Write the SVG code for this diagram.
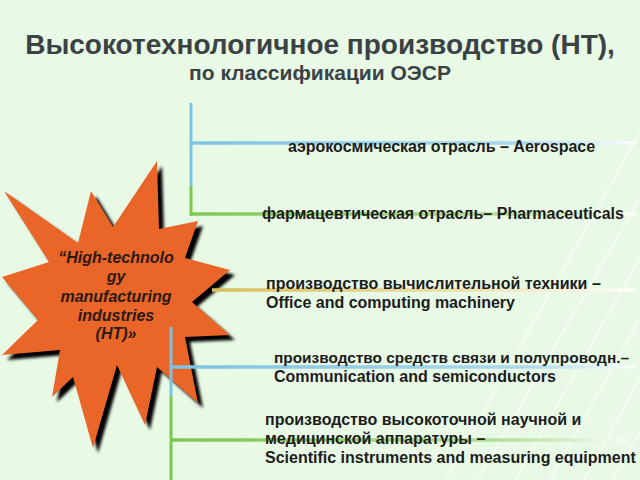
<svg xmlns="http://www.w3.org/2000/svg" xmlns:xlink="http://www.w3.org/1999/xlink" width="640" height="480" viewBox="0 0 640 480">
  <defs>
    <style>
      .title { font-family: "Liberation Sans", Arial, sans-serif; font-weight: bold; fill: #3b4246; text-anchor: middle; }
      .item { font-family: "Liberation Sans", Arial, sans-serif; font-weight: bold; font-size: 16px; fill: #1c1c1c; }
      .star-text { font-family: "Liberation Sans", Arial, sans-serif; font-weight: bold; font-style: italic; font-size: 16px; fill: #2b1a12; text-anchor: middle; }
      .conn { stroke-width: 3.5; fill: none; }
      .vert { stroke-width: 3; fill: none; }
      .deco { stroke: #ffffff; stroke-opacity: 0.75; stroke-width: 1.4; fill: none; }
    </style>
    <linearGradient id="blueFade" gradientUnits="userSpaceOnUse" x1="170" y1="0" x2="640" y2="0">
      <stop offset="0" stop-color="#7cc3e2"/>
      <stop offset="0.75" stop-color="#a9d8ec"/>
      <stop offset="1" stop-color="#ffffff"/>
    </linearGradient>
    <linearGradient id="greenFade" gradientUnits="userSpaceOnUse" x1="170" y1="0" x2="640" y2="0">
      <stop offset="0" stop-color="#7cc64f"/>
      <stop offset="0.7" stop-color="#b3dd98"/>
      <stop offset="1" stop-color="#ffffff"/>
    </linearGradient>
    <linearGradient id="yellowFade" gradientUnits="userSpaceOnUse" x1="200" y1="0" x2="640" y2="0">
      <stop offset="0" stop-color="#d8bd55"/>
      <stop offset="0.6" stop-color="#ecdfae"/>
      <stop offset="1" stop-color="#ffffff"/>
    </linearGradient>
    <filter id="blur" x="-10%" y="-10%" width="120%" height="120%">
      <feGaussianBlur stdDeviation="1.6"/>
    </filter>
    <polygon id="starShape" points="157,161 159,229 198,221 185,258 230,270 192,302 230,335 185,337 198,403 157,367 145,425 117,365 93,448 73,377 52,397 60,350 2,355 38,320 2,277 49,262 4,191 78,243 91,191 113,227"/>
  </defs>

  <rect x="0" y="0" width="640" height="480" fill="#e8f9e5"/>

  <g id="background-lines">
    <line class="deco" x1="640" y1="132" x2="445" y2="480"/>
    <line class="deco" x1="640" y1="198" x2="478" y2="480"/>
    <line class="deco" x1="640" y1="258" x2="515" y2="480"/>
    <line class="deco" x1="640" y1="318" x2="550" y2="480"/>
    <line class="deco" x1="640" y1="378" x2="584" y2="480"/>
    <line class="deco" x1="640" y1="432" x2="612" y2="480"/>
  </g>

  <g id="title">
    <text class="title" x="320" y="54" font-size="28">Высокотехнологичное производство (НТ),</text>
    <text class="title" x="320" y="80" font-size="21">по классификации ОЭСР</text>
  </g>

  <g id="node-ht">
    <use xlink:href="#starShape" fill="#000000" transform="translate(5,5)" filter="url(#blur)"/>
    <use xlink:href="#starShape" fill="#e96528"/>
    <text class="star-text" x="116" y="263">“High-technolo</text>
    <text class="star-text" x="116" y="282">gy</text>
    <text class="star-text" x="116" y="302">manufacturing</text>
    <text class="star-text" x="116" y="321">industries</text>
    <text class="star-text" x="116" y="339">(HT)»</text>
  </g>

  <g id="connectors">
    <line class="vert" x1="191" y1="103" x2="191" y2="186" stroke="#7cc3e2"/>
    <line class="vert" x1="191" y1="186" x2="191" y2="216" stroke="#7cc64f"/>
    <line class="conn" x1="190" y1="143" x2="636" y2="143" stroke="url(#blueFade)"/>
    <line class="conn" x1="190" y1="214" x2="636" y2="214" stroke="url(#greenFade)"/>
    <line class="conn" x1="212" y1="290" x2="636" y2="290" stroke="url(#yellowFade)"/>
    <line class="vert" x1="171" y1="327" x2="171" y2="396" stroke="#7cc3e2"/>
    <line class="vert" x1="171" y1="396" x2="171" y2="480" stroke="#7cc64f"/>
    <line class="conn" x1="170" y1="367" x2="636" y2="367" stroke="url(#blueFade)"/>
    <line class="conn" x1="170" y1="440" x2="628" y2="440" stroke="url(#greenFade)"/>
  </g>

  <g id="node-aerospace">
    <text class="item" x="288" y="152">аэрокосмическая отрасль – Aerospace</text>
  </g>
  <g id="node-pharma">
    <text class="item" x="262" y="219">фармацевтическая отрасль– Pharmaceuticals</text>
  </g>
  <g id="node-computing">
    <text class="item" x="266" y="289">производство вычислительной техники –</text>
    <text class="item" x="266" y="308">Office and computing machinery</text>
  </g>
  <g id="node-communication">
    <text class="item" x="274" y="363" style="font-size:15.4px">производство средств связи и полупроводн.–</text>
    <text class="item" x="274" y="382">Communication and semiconductors</text>
  </g>
  <g id="node-instruments">
    <text class="item" x="265" y="425">производство высокоточной научной и</text>
    <text class="item" x="265" y="444">медицинской аппаратуры –</text>
    <text class="item" x="265" y="463">Scientific instruments and measuring equipment</text>
  </g>
</svg>
